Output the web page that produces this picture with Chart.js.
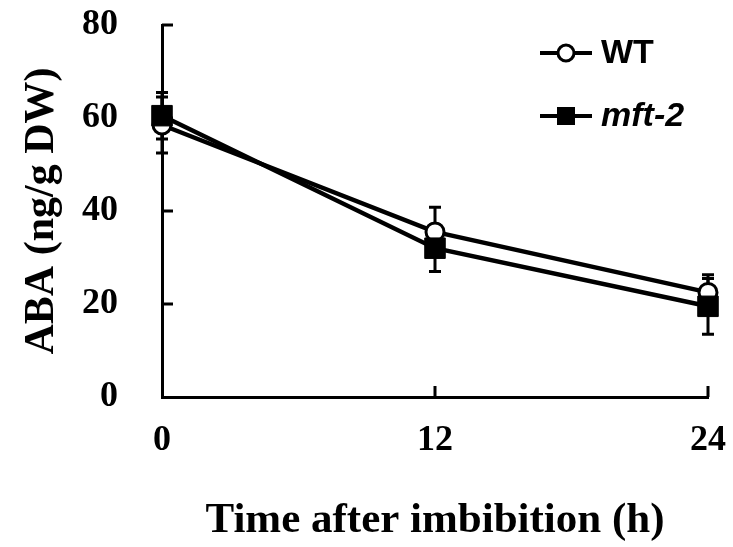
<!DOCTYPE html>
<html>
<head>
<meta charset="utf-8">
<script src="https://cdn.jsdelivr.net/npm/chart.js@4"></script>
<style>
  html, body { margin: 0; padding: 0; background: #fff; }
  #wrap { width: 733px; height: 547px; }
</style>
</head>
<body>
<div id="wrap"><canvas id="mainChart"></canvas></div>
<script>
const hours = [0, 12, 24];
const wtMean = [58.5, 35.5, 22.5];
const wtErr = [6, 5.3, 3.8];
const mftMean = [60.5, 32, 19.5];
const mftErr = [5, 5, 6];
const yTicks = [0, 20, 40, 60, 80];
const xTicks = [0, 12, 24];

const errors = [wtErr, mftErr];

// error bars, drawn under the markers
const errorBars = {
    id: 'errorBars',
    beforeDatasetsDraw(chart) {
        const ctx = chart.ctx;
        const xs = chart.scales.x, ys = chart.scales.y;
        ctx.save();
        ctx.strokeStyle = '#000';
        ctx.lineWidth = 3;
        chart.data.datasets.forEach((ds, i) => {
            ds.data.forEach((p, j) => {
                const e = errors[i][j];
                const px = xs.getPixelForValue(p.x);
                const top = ys.getPixelForValue(p.y + e);
                const bot = ys.getPixelForValue(p.y - e);
                ctx.beginPath();
                ctx.moveTo(px, top); ctx.lineTo(px, bot);
                ctx.moveTo(px - 6, top); ctx.lineTo(px + 6, top);
                ctx.moveTo(px - 6, bot); ctx.lineTo(px + 6, bot);
                ctx.stroke();
            });
        });
        ctx.restore();
    }
};

// inward tick marks + legend
const extras = {
    id: 'extras',
    afterDraw(chart) {
        const ctx = chart.ctx;
        const xs = chart.scales.x, ys = chart.scales.y;
        const a = chart.chartArea;
        ctx.save();
        ctx.strokeStyle = '#000';
        ctx.lineWidth = 3;
        ctx.beginPath();
        yTicks.slice(1).forEach(v => {
            const py = ys.getPixelForValue(v);
            ctx.moveTo(a.left, py); ctx.lineTo(a.left + 11, py);
        });
        xTicks.slice(1).forEach(v => {
            const px = xs.getPixelForValue(v);
            ctx.moveTo(px, a.bottom); ctx.lineTo(px, a.bottom - 11);
        });
        ctx.stroke();

        // legend
        const rows = [{ y: 53, ds: chart.data.datasets[0], italic: false },
                      { y: 116, ds: chart.data.datasets[1], italic: true }];
        rows.forEach(r => {
            ctx.lineWidth = 4;
            ctx.beginPath();
            ctx.moveTo(540, r.y); ctx.lineTo(592, r.y);
            ctx.stroke();
            if (r.ds.pointStyle === 'circle') {
                ctx.beginPath();
                ctx.arc(566, r.y, 8, 0, Math.PI * 2);
                ctx.fillStyle = '#fff';
                ctx.fill();
                ctx.lineWidth = 3;
                ctx.stroke();
            } else {
                ctx.fillStyle = '#000';
                ctx.fillRect(557, r.y - 9, 18, 18);
            }
            ctx.fillStyle = '#000';
            ctx.font = (r.italic ? 'italic ' : '') + 'bold 34px "Liberation Sans", Arial, sans-serif';
            ctx.textBaseline = 'middle';
            ctx.fillText(r.ds.label, 601, r.y + 1);
        });
        ctx.restore();
    }
};

new Chart(document.getElementById('mainChart'), {
    type: 'line',
    data: {
        datasets: [{
            label: 'WT',
            data: hours.map((h, i) => ({ x: h, y: wtMean[i] })),
            borderColor: '#000',
            borderWidth: 4.5,
            pointStyle: 'circle',
            pointRadius: 9,
            pointBorderWidth: 3,
            pointBackgroundColor: '#fff',
            pointBorderColor: '#000',
            tension: 0,
            clip: false,
            order: 1
        },
        {
            label: 'mft-2',
            data: hours.map((h, i) => ({ x: h, y: mftMean[i] })),
            borderColor: '#000',
            borderWidth: 4.5,
            pointStyle: 'rect',
            pointRadius: 14.5,
            pointBorderWidth: 1,
            pointBackgroundColor: '#000',
            pointBorderColor: '#000',
            tension: 0,
            clip: false,
            order: 0
        }]
    },
    options: {
        responsive: true,
        maintainAspectRatio: false,
        animation: false,
        layout: { padding: { top: 25, right: 25, left: 0, bottom: 0 } },
        plugins: {
            legend: { display: false },
            tooltip: { enabled: false }
        },
        scales: {
            x: {
                type: 'linear',
                min: 0,
                max: 24,
                afterBuildTicks: s => { s.ticks = xTicks.map(v => ({ value: v })); },
                grid: { display: false, drawTicks: false },
                border: { display: true, color: '#000', width: 3 },
                ticks: {
                    color: '#000',
                    padding: 22,
                    font: { family: '"Liberation Serif", "Times New Roman", serif', size: 36, weight: 'bold' }
                },
                title: {
                    display: true,
                    text: 'Time after imbibition (h)',
                    color: '#000',
                    padding: { top: 0, bottom: 0 },
                    font: { family: '"Liberation Serif", "Times New Roman", serif', size: 43, weight: 'bold' }
                },
                afterFit: s => {
                    s.height = 547 - 397;
                    s.paddingLeft = 0;
                    s.paddingRight = 0;
                }
            },
            y: {
                min: 0,
                max: 80,
                afterBuildTicks: s => { s.ticks = yTicks.map(v => ({ value: v })); },
                grid: { display: false, drawTicks: false },
                border: { display: true, color: '#000', width: 3 },
                ticks: {
                    color: '#000',
                    padding: 44,
                    font: { family: '"Liberation Serif", "Times New Roman", serif', size: 36, weight: 'bold' }
                },
                title: {
                    display: true,
                    text: 'ABA (ng/g DW)',
                    color: '#000',
                    padding: { top: 17, bottom: 0 },
                    font: { family: '"Liberation Serif", "Times New Roman", serif', size: 42, weight: 'bold' }
                },
                afterFit: s => {
                    s.width = 162;
                    s.paddingTop = 0;
                    s.paddingBottom = 0;
                }
            }
        }
    },
    plugins: [errorBars, extras]
});
</script>
</body>
</html>
